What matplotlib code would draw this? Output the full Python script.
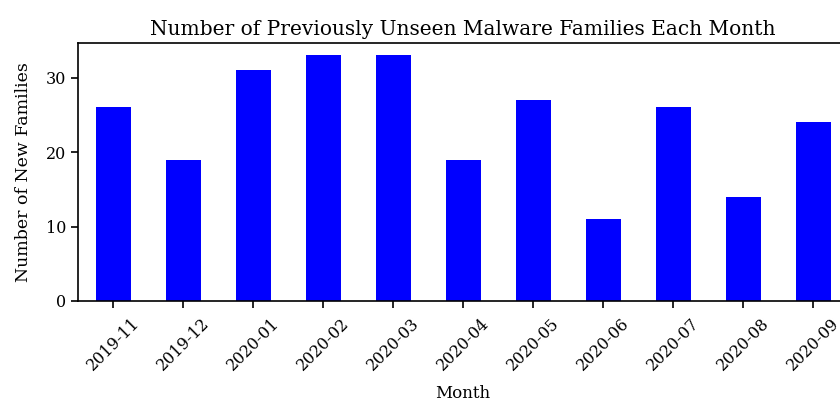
import matplotlib.pyplot as plt
import numpy as np

months = ['2019-11', '2019-12', '2020-01', '2020-02', '2020-03', '2020-04',
          '2020-05', '2020-06', '2020-07', '2020-08', '2020-09']
new_families = [26, 19, 31, 33, 33, 19, 27, 11, 26, 14, 24]

plt.rcParams['font.family'] = ['DejaVu Serif']

fig = plt.figure(figsize=(8.4, 4.05), dpi=100)
ax = fig.add_axes([0.0929, 0.2568, 0.9167, 0.637])

x = np.arange(len(months))
ax.bar(x, new_families, width=0.5, color='#0000ff')
ax.set_xlim(-0.5, len(months) - 0.5)
ax.set_ylim(0, max(new_families) * 1.05)
ax.set_xticks(x)
ax.set_xticklabels(months, rotation=45, ha='center', fontsize=11.5)
ax.set_yticks([0, 10, 20, 30])
ax.tick_params(axis='y', labelsize=11.5, length=5, width=1.2)
ax.tick_params(axis='x', length=5, width=1.2, pad=5)
for sp in ax.spines.values():
    sp.set_linewidth(1.2)

ax.set_title('Number of Previously Unseen Malware Families Each Month', fontsize=14.5)
ax.set_xlabel('Month', fontsize=12, labelpad=8)
ax.set_ylabel('Number of New Families', fontsize=12.5, labelpad=10)

fig.savefig('out.png', dpi=100)
